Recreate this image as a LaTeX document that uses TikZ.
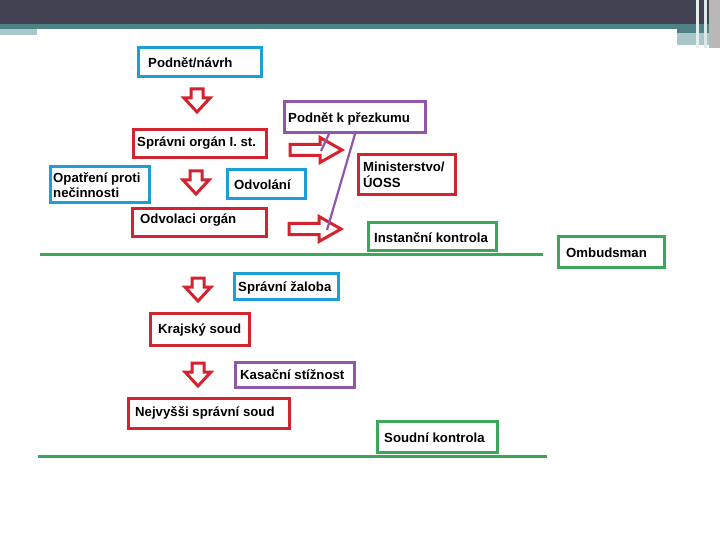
\documentclass[tikz,border=0pt]{standalone}
\usepackage{fontspec}
\setmainfont{Liberation Sans}
\definecolor{cblue}{HTML}{1C9FD9}
\definecolor{cred}{HTML}{D2232F}
\definecolor{cpurple}{HTML}{8F56A9}
\definecolor{cgreen}{HTML}{3CA65A}
\definecolor{hdark}{HTML}{414152}
\definecolor{hteal}{HTML}{4C8284}
\definecolor{hlight}{HTML}{A9C6C8}
\begin{document}
\begin{tikzpicture}[x=1pt,y=-1pt,
  bx/.style={draw=#1, line width=3pt, minimum width=0pt, minimum height=0pt, inner sep=0pt, anchor=north west},
  txt/.style={font=\bfseries\fontsize{13.2}{15.5}\selectfont, inner sep=0pt, anchor=west, align=left, text=black, yshift=-1.5pt},
  hollow/.style={draw=cred, line width=3pt, line join=miter, fill=white},
  gline/.style={draw=cgreen, line width=3pt},
  pline/.style={draw=cpurple, line width=2.2pt}]
\useasboundingbox (0,0) rectangle (720,540);
\fill[white] (0,0) rectangle (720,540);
% header
\fill[hdark] (0,0) rectangle (720,24);
\fill[hteal] (0,24) rectangle (720,29);
\fill[hlight] (0,29) rectangle (37,35);
\fill[hteal] (677,29) rectangle (720,33);
\fill[hlight] (677,33) rectangle (720,45);
\fill[white!70!hlight] (696,0) rectangle (699,48);
\fill[white!60!hlight] (704,0) rectangle (707,48);
\fill[gray!55] (709,0) rectangle (720,48);

% boxes
\newcommand{\boxat}[6]{\node[bx=#1, minimum width=#4, minimum height=#5] (#6) at (#2,#3) {};}
\boxat{cblue}{137}{46}{123}{29}{pn}
\boxat{cpurple}{283}{100}{141}{31}{pk}
\boxat{cred}{132}{128}{133}{28}{so}
\boxat{cred}{357}{153}{97}{40}{mi}
\boxat{cblue}{49}{165}{99}{36}{op}
\boxat{cblue}{226}{168}{78}{29}{od}
\boxat{cred}{131}{207}{134}{28}{oo}
\boxat{cgreen}{367}{221}{128}{28}{ik}
\boxat{cgreen}{557}{235}{106}{31}{om}
\boxat{cblue}{233}{272}{104}{26}{sz}
\boxat{cred}{149}{312}{99}{32}{ks}
\boxat{cpurple}{234}{361}{119}{25}{kst}
\boxat{cred}{127}{397}{161}{30}{ns}
\boxat{cgreen}{376}{420}{120}{31}{sk}

% texts
\node[txt] (tpn) at (148,61) {Podnět/návrh};
\node[txt] (tpk) at (288,117.5) {Podnět k přezkumu};
\node[txt] (tso) at (137,142) {Správni orgán I. st.};
\node[txt] (tmi) at (363,173.5) {Ministerstvo/\\ÚOSS};
\node[txt] (top) at (53,183.5) {Opatření proti\\nečinnosti};
\node[txt] (tod) at (234,183) {Odvolání};
\node[txt] (too) at (140,219) {Odvolaci orgán};
\node[txt] (tik) at (374,236) {Instanční kontrola};
\node[txt] (tom) at (566,251) {Ombudsman};
\node[txt] (tsz) at (238,286) {Správní žaloba};
\node[txt] (tks) at (158,329) {Krajský soud};
\node[txt] (tkst) at (240,373) {Kasační stížnost};
\node[txt] (tns) at (135,411) {Nejvyšši správní soud};
\node[txt] (tsk) at (384,436) {Soudní kontrola};

% down arrows
\newcommand{\downarr}[2]{%
  \draw[hollow] (#1-6,#2) -- (#1+6,#2) -- (#1+6,#2+9) -- (#1+13,#2+9) -- (#1,#2+23) -- (#1-13,#2+9) -- (#1-6,#2+9) -- cycle;}
\downarr{197}{89}
\downarr{196}{171}
\downarr{198}{278}
\downarr{198}{363}

% right arrows
\newcommand{\rightarr}[3]{%
  \draw[hollow] (#1,#3-5.5) -- (#2-22,#3-5.5) -- (#2-22,#3-12.5) -- (#2,#3) -- (#2-22,#3+12.5) -- (#2-22,#3+5.5) -- (#1,#3+5.5) -- cycle;}
\rightarr{290}{342}{150}
\rightarr{289}{341}{229}

% purple connectors
\coordinate (p1) at (321,151);
\coordinate (p2) at (327,230);
\draw[pline] ([xshift=46]pk.south west) -- (p1);
\draw[pline] ([xshift=72]pk.south west) -- (p2);

% green lines
\coordinate (g1a) at (40,254);
\coordinate (g1b) at (543,254);
\coordinate (g2a) at (38,456);
\coordinate (g2b) at (547,456);
\draw[gline] (g1a) -- (g1b);
\draw[gline] (g2a) -- (g2b);
\end{tikzpicture}
\end{document}
